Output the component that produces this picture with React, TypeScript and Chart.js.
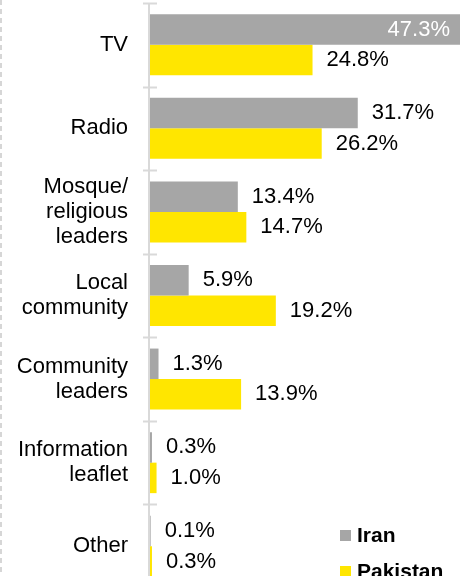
import React, { useEffect, useRef } from "react";
import { Chart, registerables } from "chart.js";

Chart.register(...registerables);

const categories: (string | string[])[] = [
  "TV",
  "Radio",
  ["Mosque/", "religious", "leaders"],
  ["Local", "community"],
  ["Community", "leaders"],
  ["Information", "leaflet"],
  "Other",
];
const iranValues = [47.3, 31.7, 13.4, 5.9, 1.3, 0.3, 0.1];
const pakistanValues = [24.8, 26.2, 14.7, 19.2, 13.9, 1.0, 0.3];
const seriesNames = ["Iran", "Pakistan"];
const seriesColors = ["#a6a6a6", "#ffe600"];

const FONT = '"Liberation Sans", Arial, sans-serif';

const decorPlugin = {
  id: "decor",
  beforeDatasetsDraw(chart: any) {
    const ctx = chart.ctx;
    const area = chart.chartArea;
    ctx.save();
    // left dashed border
    ctx.strokeStyle = "#d6d6d6";
    ctx.lineWidth = 2;
    ctx.setLineDash([5, 4]);
    ctx.beginPath();
    ctx.moveTo(1, 0);
    ctx.lineTo(1, chart.height);
    ctx.stroke();
    ctx.setLineDash([]);
    // axis line
    ctx.strokeStyle = "#d9d9d9";
    ctx.lineWidth = 2;
    ctx.beginPath();
    ctx.moveTo(area.left - 1, area.top);
    ctx.lineTo(area.left - 1, area.bottom);
    ctx.stroke();
    // ticks at category boundaries
    const n = chart.data.labels.length;
    const band = (area.bottom - area.top) / n;
    for (let i = 0; i <= n; i++) {
      const yy = Math.round(area.top + i * band) + 0.5;
      ctx.beginPath();
      ctx.moveTo(area.left - 7, yy);
      ctx.lineTo(area.left + 7, yy);
      ctx.stroke();
    }
    ctx.restore();
  },
  afterDatasetsDraw(chart: any) {
    const ctx = chart.ctx;
    ctx.save();
    ctx.font = `22px ${FONT}`;
    ctx.textBaseline = "middle";
    chart.data.datasets.forEach((ds: any, di: number) => {
      const meta = chart.getDatasetMeta(di);
      meta.data.forEach((el: any, i: number) => {
        const txt = ds.data[i].toFixed(1) + "%";
        const w = ctx.measureText(txt).width;
        if (el.x + 14 + w > chart.width) {
          ctx.fillStyle = "#ffffff";
          ctx.textAlign = "right";
          ctx.fillText(txt, el.x - 10, el.y);
        } else {
          ctx.fillStyle = "#000000";
          ctx.textAlign = "left";
          ctx.fillText(txt, el.x + 14, el.y);
        }
      });
    });
    // legend
    ctx.font = `bold 21px ${FONT}`;
    ctx.textAlign = "left";
    ctx.textBaseline = "middle";
    chart.data.datasets.forEach((ds: any, di: number) => {
      const cy = 535.5 + di * 36;
      ctx.fillStyle = ds.backgroundColor;
      ctx.fillRect(340, cy - 5.5, 11, 11);
      ctx.fillStyle = "#000000";
      ctx.fillText(ds.label, 357, cy + 1);
    });
    ctx.restore();
  },
};

export default function App() {
  const ref = useRef<HTMLCanvasElement | null>(null);
  useEffect(() => {
    document.body.style.margin = "0";
    if (!ref.current) return;
    const maxVal = Math.max(...iranValues, ...pakistanValues);
    const chart = new Chart(ref.current, {
      type: "bar",
      data: {
        labels: categories as any,
        datasets: [
          {
            label: seriesNames[0],
            data: iranValues,
            backgroundColor: seriesColors[0],
            categoryPercentage: 0.73,
            barPercentage: 1,
          },
          {
            label: seriesNames[1],
            data: pakistanValues,
            backgroundColor: seriesColors[1],
            categoryPercentage: 0.73,
            barPercentage: 1,
          },
        ],
      },
      options: {
        indexAxis: "y",
        responsive: false,
        animation: false,
        layout: { padding: { top: 3, bottom: 4, left: 0, right: 7 } },
        plugins: {
          legend: { display: false },
          tooltip: { enabled: false },
        },
        scales: {
          x: {
            display: false,
            min: 0,
            max: maxVal,
          },
          y: {
            grid: { display: false },
            border: { display: false },
            ticks: {
              color: "#000000",
              padding: 14,
              font: { family: FONT, size: 22, lineHeight: 1.14 },
            },
            afterFit(scale: any) {
              scale.width = 150;
              scale.paddingTop = 0;
              scale.paddingBottom = 0;
            },
          },
        },
      },
      plugins: [decorPlugin],
    });
    return () => chart.destroy();
  }, []);
  return (
    <div style={{ position: "absolute", left: 0, top: 0, width: 467, height: 592 }}>
      <canvas ref={ref} width={467} height={592} style={{ display: "block" }} />
    </div>
  );
}
